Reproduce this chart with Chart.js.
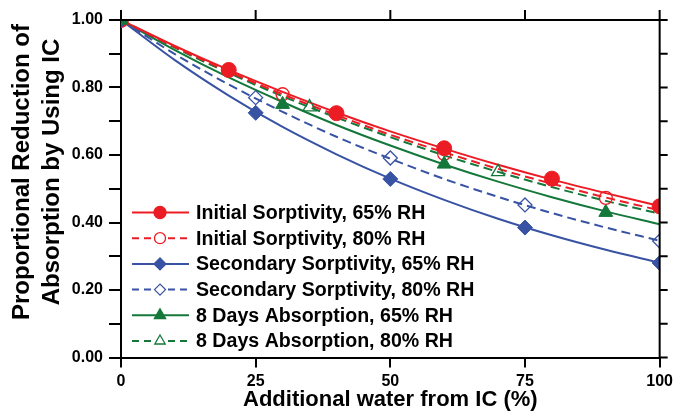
<!DOCTYPE html>
<html>
<head>
<meta charset="utf-8">
<script src="https://cdn.jsdelivr.net/npm/chart.js@4/dist/chart.umd.min.js"></script>
<style>
html,body{margin:0;padding:0;background:#fff;}
#wrap{width:677px;height:417px;position:relative;}
</style>
</head>
<body>
<div id="wrap"><canvas id="chart"></canvas></div>
<script>

const xTicks = [0,25,50,75,100];
const yTicks = [0,0.1,0.2,0.3,0.4,0.5,0.6,0.7,0.8,0.9,1.0];

/* fitted curves, read every 10 % */
const curveX = [0,10,20,30,40,50,60,70,80,90,100];
const initial65Curve   = [1.00,0.923,0.852,0.787,0.726,0.670,0.619,0.571,0.527,0.487,0.449];
const initial80Curve   = [1.00,0.920,0.847,0.780,0.718,0.660,0.608,0.559,0.515,0.474,0.436];
const secondary65Curve = [1.00,0.881,0.776,0.683,0.602,0.530,0.467,0.411,0.362,0.319,0.281];
const secondary80Curve = [1.00,0.899,0.809,0.728,0.654,0.589,0.529,0.476,0.428,0.385,0.346];
const days65Curve      = [1.00,0.911,0.830,0.757,0.689,0.628,0.572,0.521,0.475,0.433,0.395];
const days80Curve      = [1.00,0.918,0.843,0.774,0.711,0.653,0.599,0.550,0.505,0.464,0.426];

/* measured points */
const initial65X = [0,20,40,60,80,100];
const initial65Y = [1.00,0.852,0.724,0.620,0.530,0.448];
const initial80X = [0,30,60,90];
const initial80Y = [1.00,0.780,0.603,0.473];
const secondary65X = [0,25,50,75,100];
const secondary65Y = [1.00,0.725,0.529,0.385,0.280];
const secondary80X = [0,25,50,75,100];
const secondary80Y = [1.00,0.770,0.591,0.452,0.345];
const days65X = [0,30,60,90];
const days65Y = [1.00,0.750,0.573,0.430];
const days80X = [0,35,70];
const days80Y = [1.00,0.742,0.550];

const legendLabels = [
"Initial Sorptivity, 65% RH",
"Initial Sorptivity, 80% RH",
"Secondary Sorptivity, 65% RH",
"Secondary Sorptivity, 80% RH",
"8 Days Absorption, 65% RH",
"8 Days Absorption, 80% RH"
];

const RED = "#ec1c24";
const BLUE = "#3953a4";
const GREEN = "#14783a";
const FONT = "'Liberation Sans', Arial, sans-serif";

const series = [
{x:initial65X, y:initial65Y, curve:initial65Curve, color:RED, style:"circle", filled:true, dash:[], r:7.5, lr:6},
{x:initial80X, y:initial80Y, curve:initial80Curve, color:RED, style:"circle", filled:false, dash:[9,5], r:6.5, lr:5.5},
{x:secondary65X, y:secondary65Y, curve:secondary65Curve, color:BLUE, style:"rectRot", filled:true, dash:[], r:7.5, lr:6},
{x:secondary80X, y:secondary80Y, curve:secondary80Curve, color:BLUE, style:"rectRot", filled:false, dash:[9,5], r:7, lr:5.5},
{x:days65X, y:days65Y, curve:days65Curve, color:GREEN, style:"triangle", filled:true, dash:[], r:8, lr:6.5},
{x:days80X, y:days80Y, curve:days80Curve, color:GREEN, style:"triangle", filled:false, dash:[9,5], r:7.5, lr:6}
];

const datasets = [];

series.forEach((s,i)=>{
datasets.push({
label: legendLabels[i] + " fit",
data: curveX.map((x,k)=>({x:x, y:s.curve[k]})),
showLine: true,
borderColor: s.color,
borderWidth: 2,
borderDash: s.dash,
pointRadius: 0,
cubicInterpolationMode: "monotone",
order: 20 + i
});
});

series.forEach((s,i)=>{
datasets.push({
label: legendLabels[i],
data: s.x.map((x,k)=>({x:x, y:s.y[k]})),
showLine: false,
pointStyle: s.style,
pointRadius: s.r,
pointHoverRadius: s.r,
pointBackgroundColor: s.filled ? s.color : "rgba(255,255,255,0)",
pointBorderColor: s.color,
pointBorderWidth: s.filled ? 1 : 1.3,
order: 10 - i
});
});

/* top/right frame with ticks, y title and legend */
const framePlugin = {
id: "frame",
afterDraw(chart){
const ctx = chart.ctx;
const a = chart.chartArea;
const xs = chart.scales.x;
const ys = chart.scales.y;

ctx.save();
ctx.strokeStyle = "#000";
ctx.lineWidth = 2;
ctx.beginPath();
ctx.moveTo(a.left-1, a.top);
ctx.lineTo(a.right, a.top);
ctx.lineTo(a.right, a.bottom+1);
ctx.stroke();

ctx.beginPath();
xTicks.forEach(v=>{
const px = xs.getPixelForValue(v);
ctx.moveTo(px, a.top);
ctx.lineTo(px, a.top-10);
});
yTicks.forEach(v=>{
const py = ys.getPixelForValue(v);
ctx.moveTo(a.right, py);
ctx.lineTo(a.right+8, py);
});
ctx.stroke();

// y title
ctx.fillStyle = "#000";
ctx.font = "bold 24px " + FONT;
ctx.textAlign = "center";
ctx.textBaseline = "middle";
ctx.translate(22, 172);
ctx.rotate(-Math.PI/2);
ctx.fillText("Proportional Reduction of", 0, 0);
ctx.fillText("Absorption by Using IC", 0, 30);
ctx.restore();

// legend
ctx.save();
ctx.font = "bold 19.6px " + FONT;
ctx.textAlign = "left";
ctx.textBaseline = "middle";
series.forEach((s,i)=>{
const y = 212.5 + i*25.7;
ctx.strokeStyle = s.color;
ctx.lineWidth = 2;
ctx.setLineDash(s.dash.length ? [7,5] : []);
ctx.beginPath();
ctx.moveTo(132, y);
ctx.lineTo(189, y);
ctx.stroke();
ctx.setLineDash([]);
ctx.fillStyle = s.filled ? s.color : "#fff";
ctx.lineWidth = 1.3;
Chart.helpers.drawPoint(ctx, {pointStyle:s.style, radius:s.lr, borderWidth:1.3, rotation:0}, 160, y);
ctx.fillStyle = "#000";
ctx.fillText(legendLabels[i], 196, y+1);
});
ctx.restore();
}
};

const ctx = document.getElementById("chart");

window.absChart = new Chart(ctx,{
type:"scatter",
data:{datasets:datasets},
options:{
responsive:true,
maintainAspectRatio:false,
animation:false,
events:[],
layout:{padding:{top:20,right:16,left:0,bottom:0}},
plugins:{legend:{display:false},tooltip:{enabled:false}},
scales:{
x:{
type:"linear",
min:0,
max:100,
afterFit(scale){ scale.height = 59.5; },
afterBuildTicks(scale){ scale.ticks = xTicks.map(v=>({value:v})); },
border:{color:"#000",width:2},
grid:{drawOnChartArea:false,color:"#000",lineWidth:2,tickLength:10},
ticks:{color:"#000",padding:4,font:{family:FONT,size:16,weight:"bold"},maxRotation:0},
title:{display:true,text:"Additional water from IC (%)",color:"#000",
font:{family:FONT,size:22,weight:"bold"},padding:{top:0,bottom:4}}
},
y:{
type:"linear",
min:0,
max:1,
afterFit(scale){ scale.width = 121; },
afterBuildTicks(scale){ scale.ticks = yTicks.map(v=>({value:v})); },
border:{color:"#000",width:2},
grid:{drawOnChartArea:false,color:"#000",lineWidth:2,tickLength:12},
ticks:{color:"#000",padding:6,font:{family:FONT,size:16,weight:"bold"},
callback:(v,i)=> i%2===0 ? Number(v).toFixed(2) : ""}
}
}
},
plugins:[framePlugin]
});

</script>
</body>
</html>
